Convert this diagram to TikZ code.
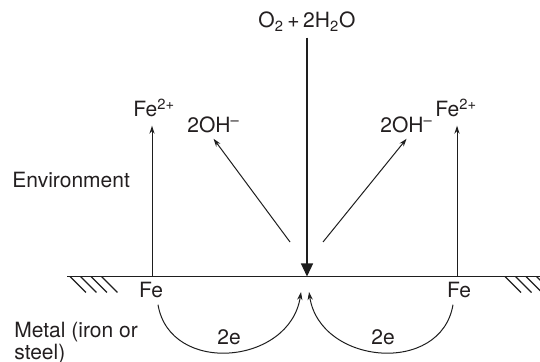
\documentclass[tikz,border=0pt]{standalone}
\usepackage{fontspec}
\setmainfont{TeX Gyre Heros}
\usetikzlibrary{arrows.meta, calc}
\definecolor{inkline}{HTML}{1E1E1E}
\definecolor{inktext}{HTML}{231F20}
\tikzset{
  chem/.style={font=\fontsize{10.5pt}{10.8pt}\selectfont, text=inktext,
               inner sep=0pt},
  ion/.style={chem, anchor=base west, inner xsep=0pt},
  metal/.style={chem, anchor=base, inner xsep=0pt, inner ysep=3pt},
  side/.style={chem, align=left},
  surface/.style={line width=0.6pt, draw=inkline},
  hatch/.style={line width=0.55pt, draw=inkline},
  flow/.style={-{Stealth[length=4pt, width=2.6pt]}, line width=0.5pt, draw=inkline},
  oxy/.style={-{Triangle[length=6.5pt, width=6pt]}, line width=0.6pt, draw=inkline},
}
\def\surfy{276.5}

\begin{document}
\begin{tikzpicture}[x=0.5pt, y=-0.5pt]
\clip (0,0) rectangle (540,362);

% Surface of the metal
\coordinate (feL) at (152,\surfy);
\coordinate (feR) at (457,\surfy);
\coordinate (mid) at (307,\surfy);
\draw[surface] (67,\surfy) -- (540,\surfy);
\foreach \hx in {70,80.5,91,101.5} {
  \draw[hatch] (\hx,\surfy) -- ++(16,16);
}
\foreach \hx in {505,515.5,526,536.5} {
  \draw[hatch] (\hx,\surfy) -- ++(16,16);
}

% Cathode: oxygen comes in, hydroxide goes out
\node[chem, anchor=base, inner ysep=3pt] (o2) at (307,28)
  {O\textsubscript{2}\,+\,2H\textsubscript{2}O};
\draw[oxy] (o2.south) -- (mid);
\node[ion, inner ysep=2.5pt] (ohL) at (187,133) {2OH\textsuperscript{--}};
\node[ion, inner ysep=2.5pt] (ohR) at (380,133) {2OH\textsuperscript{--}};
\coordinate (srcL) at (290,242);
\coordinate (srcR) at (323,242);
\draw[flow] (srcL) -- (ohL.south);
\draw[flow] (srcR) -- (ohR.south);

% Anodes: iron goes into solution
\node[ion, inner ysep=4pt] (fe2L) at (133,117) {Fe\textsuperscript{2+}};
\node[ion, inner ysep=4pt] (fe2R) at (435,117) {Fe\textsuperscript{2+}};
\draw[flow] (feL) -- (fe2L.south -| feL);
\draw[flow] (feR) -- (fe2R.south -| feR);
\node[metal] (feTxtL) at (151,298) {Fe};
\node[metal] (feTxtR) at (459,298) {Fe};

% Electrons through the metal
\coordinate (arrL) at (301,292);
\coordinate (arrR) at (309,292);
\draw[flow] ([xshift=3.5pt]feTxtL.south) .. controls +(12,71) and +(-11,73) .. (arrL);
\draw[flow] ([xshift=-3pt]feTxtR.south) .. controls +(-12,71) and +(11,73) .. (arrR);
\node[chem, anchor=base] (eL) at (229,345) {2e};
\node[chem, anchor=base] (eR) at (383,345) {2e};

% Side labels
\node[chem, anchor=base west] (env) at (12,188) {Environment};
\node[side, anchor=north west] (metal) at (14,322) {Metal (iron or\\steel)};

\end{tikzpicture}
\end{document}
